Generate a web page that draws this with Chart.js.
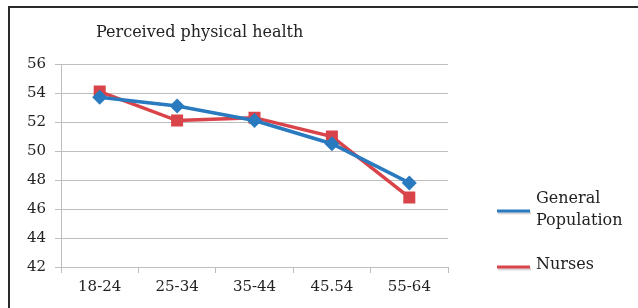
<!DOCTYPE html>
<html>
<head>
<meta charset="utf-8">
<script src="https://cdn.jsdelivr.net/npm/chart.js@4"></script>
<style>
  html, body { margin: 0; padding: 0; background: #fff; }
  #wrap { position: relative; width: 638px; height: 308px; }
</style>
</head>
<body>
<div id="wrap"><canvas id="chart" width="638" height="308"></canvas></div>
<script>
const title = 'Perceived physical health';
const ageGroups = ['18-24', '25-34', '35-44', '45.54', '55-64'];
const generalPopulation = [53.7, 53.1, 52.1, 50.5, 47.8];
const nurses = [54.1, 52.1, 52.3, 51.0, 46.8];
const yTicks = [42, 44, 46, 48, 50, 52, 54, 56];

const BLUE = '#2a7ac0';
const RED = '#d9444a';
const FONT = '"DejaVu Serif", serif';

// border, title and two-line legend
const decor = {
  id: 'decor',
  beforeDraw(chart) {
    const ctx = chart.ctx;
    ctx.save();
    ctx.strokeStyle = '#2a2a2a';
    ctx.lineWidth = 2;
    ctx.beginPath();
    ctx.moveTo(9, 308);
    ctx.lineTo(9, 7);
    ctx.lineTo(638, 7);
    ctx.stroke();
    ctx.restore();
  },
  afterDraw(chart) {
    const ctx = chart.ctx;
    ctx.save();
    ctx.fillStyle = '#222';
    ctx.font = '16px ' + FONT;
    ctx.textBaseline = 'middle';
    ctx.textAlign = 'left';
    ctx.fillText(title, 96, 33);

    const items = [
      { ds: chart.data.datasets[0], lineY: 211, lines: ['General', 'Population'], textY: 199 },
      { ds: chart.data.datasets[1], lineY: 267, lines: ['Nurses'], textY: 265 }
    ];
    ctx.font = '16px ' + FONT;
    items.forEach(it => {
      ctx.strokeStyle = 'rgba(0,0,0,0.15)';
      ctx.lineWidth = 3;
      ctx.beginPath();
      ctx.moveTo(498, it.lineY + 2);
      ctx.lineTo(531, it.lineY + 2);
      ctx.stroke();
      ctx.strokeStyle = it.ds.borderColor;
      ctx.beginPath();
      ctx.moveTo(497, it.lineY);
      ctx.lineTo(530, it.lineY);
      ctx.stroke();
      ctx.fillStyle = '#222';
      it.lines.forEach((t, i) => ctx.fillText(t, 536, it.textY + i * 22));
    });
    ctx.restore();
  }
};

new Chart(document.getElementById('chart'), {
  type: 'line',
  data: {
    labels: ageGroups,
    datasets: [
      {
        label: 'General Population',
        data: generalPopulation,
        borderColor: BLUE,
        backgroundColor: BLUE,
        borderWidth: 3.5,
        pointStyle: 'rectRot',
        pointRadius: 7.5,
        pointBorderWidth: 0,
        tension: 0
      },
      {
        label: 'Nurses',
        data: nurses,
        borderColor: RED,
        backgroundColor: RED,
        borderWidth: 3.5,
        pointStyle: 'rect',
        pointRadius: 8.5,
        pointBorderWidth: 0,
        tension: 0
      }
    ]
  },
  options: {
    responsive: false,
    animation: false,
    layout: { padding: { left: 10, top: 64, right: 190, bottom: 0 } },
    plugins: {
      legend: { display: false },
      tooltip: { enabled: false }
    },
    scales: {
      x: {
        offset: true,
        grid: { offset: true, drawOnChartArea: false, drawTicks: true, tickLength: 6, color: '#bdbdbd' },
        border: { color: '#bdbdbd', width: 1 },
        ticks: { color: '#222', font: { family: FONT, size: 15 }, padding: 5 },
        afterFit(scale) { scale.height = 41; }
      },
      y: {
        min: 42,
        max: 56,
        afterBuildTicks(scale) { scale.ticks = yTicks.map(v => ({ value: v })); },
        grid: { color: '#bdbdbd', tickLength: 6 },
        border: { color: '#bdbdbd', width: 1 },
        ticks: { color: '#222', font: { family: FONT, size: 15 }, padding: 9 },
        afterFit(scale) { scale.width = 51; }
      }
    }
  },
  plugins: [decor]
});
</script>
</body>
</html>
